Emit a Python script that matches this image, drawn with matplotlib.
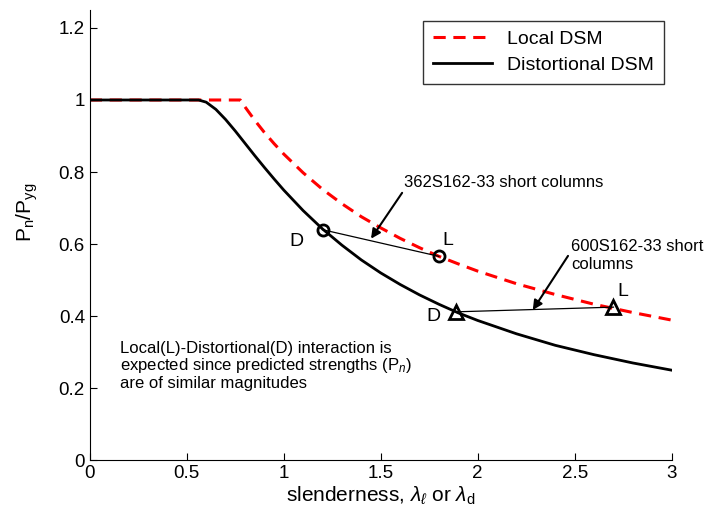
import matplotlib
matplotlib.use("Agg")
import matplotlib.pyplot as plt

plt.rcParams["font.family"] = ["Liberation Sans", "DejaVu Sans"]
plt.rcParams["mathtext.fontset"] = "custom"
plt.rcParams["mathtext.rm"] = "Liberation Sans"
plt.rcParams["mathtext.it"] = "Liberation Sans:italic"

# DSM curves
local_x = [0, 0.776, 0.8, 0.85, 0.9, 0.95, 1.0, 1.1, 1.2, 1.3, 1.4, 1.5, 1.6, 1.7,
           1.8, 1.9, 2.0, 2.2, 2.4, 2.6, 2.8, 3.0]
local_y = [1, 1, 0.981, 0.944, 0.910, 0.879, 0.850, 0.798, 0.752, 0.712, 0.676,
           0.645, 0.616, 0.590, 0.566, 0.545, 0.525, 0.490, 0.460, 0.433, 0.410, 0.389]

dist_x = [0, 0.561, 0.6, 0.65, 0.7, 0.75, 0.8, 0.85, 0.9, 0.95, 1.0, 1.1, 1.2, 1.3,
          1.4, 1.5, 1.6, 1.7, 1.8, 1.9, 2.0, 2.2, 2.4, 2.6, 2.8, 3.0]
dist_y = [1, 1, 0.994, 0.974, 0.946, 0.914, 0.880, 0.846, 0.813, 0.781, 0.750,
          0.693, 0.642, 0.597, 0.556, 0.520, 0.488, 0.459, 0.433, 0.409, 0.388,
          0.351, 0.319, 0.293, 0.270, 0.250]

# test points (D = distortional, L = local)
col362_x = [1.2, 1.8]
col362_y = [0.64, 0.566]
col600_x = [1.89, 2.7]
col600_y = [0.412, 0.425]

fig = plt.figure(figsize=(7.07, 5.23), dpi=100)
ax = fig.add_axes([0.127, 0.12, 0.823, 0.861])

ax.plot(local_x, local_y, "r--", lw=2.2, dashes=(4, 2.5), label="Local DSM")
ax.plot(dist_x, dist_y, "k-", lw=2.0, label="Distortional DSM")

ax.plot(col362_x, col362_y, "k-", lw=0.9)
ax.plot(col362_x, col362_y, "ko", ms=8, mfc="none", mew=2)
ax.plot(col600_x, col600_y, "k-", lw=0.9)
ax.plot(col600_x, col600_y, "k^", ms=10, mfc="none", mew=2)

ax.text(1.10, 0.63, "D", fontsize=14, ha="right", va="top")
ax.text(1.82, 0.585, "L", fontsize=14, ha="left", va="bottom")
ax.text(1.81, 0.40, "D", fontsize=14, ha="right", va="center")
ax.text(2.72, 0.445, "L", fontsize=14, ha="left", va="bottom")

ax.annotate("362S162-33 short columns", xy=(1.45, 0.615), xytext=(1.62, 0.75),
            fontsize=12, ha="left", va="bottom",
            arrowprops=dict(arrowstyle="-|>", color="k", lw=1.5,
                            shrinkA=0, shrinkB=0, mutation_scale=14,
                            relpos=(0.0, 0.0)))
ax.annotate("600S162-33 short\ncolumns", xy=(2.284, 0.417), xytext=(2.48, 0.522),
            fontsize=12, ha="left", va="bottom", linespacing=1.25,
            arrowprops=dict(arrowstyle="-|>", color="k", lw=1.5,
                            shrinkA=0, shrinkB=0, mutation_scale=14,
                            relpos=(-0.02, 0.5)))

ax.text(0.155, 0.262, "Local(L)-Distortional(D) interaction is\n"
        "expected since predicted strengths (P$_n$)\nare of similar magnitudes",
        fontsize=12, ha="left", va="center", linespacing=1.05)

ax.set_xlim(0, 3)
ax.set_ylim(0, 1.25)
ax.set_xticks([0, 0.5, 1, 1.5, 2, 2.5, 3])
ax.set_xticklabels(["0", "0.5", "1", "1.5", "2", "2.5", "3"])
ax.set_yticks([0, 0.2, 0.4, 0.6, 0.8, 1.0, 1.2])
ax.set_yticklabels(["0", "0.2", "0.4", "0.6", "0.8", "1", "1.2"])
ax.tick_params(direction="in", labelsize=13.5, length=5)
ax.spines["top"].set_visible(False)
ax.spines["right"].set_visible(False)

ax.set_xlabel(r"slenderness, $\lambda_\ell$ or $\lambda_{\rm d}$", fontsize=15,
              labelpad=2)
ax.set_ylabel(r"P$_{\rm n}$/P$_{\rm yg}$", fontsize=15)
ax.yaxis.set_label_coords(-0.085, 0.55)

leg = ax.legend(loc="upper right", fontsize=14, fancybox=False, edgecolor="k",
                handlelength=3.0, borderpad=0.5, labelspacing=0.45,
                bbox_to_anchor=(1.003, 0.998))
leg.get_frame().set_linewidth(1.0)

fig.savefig("out.png", dpi=100)
